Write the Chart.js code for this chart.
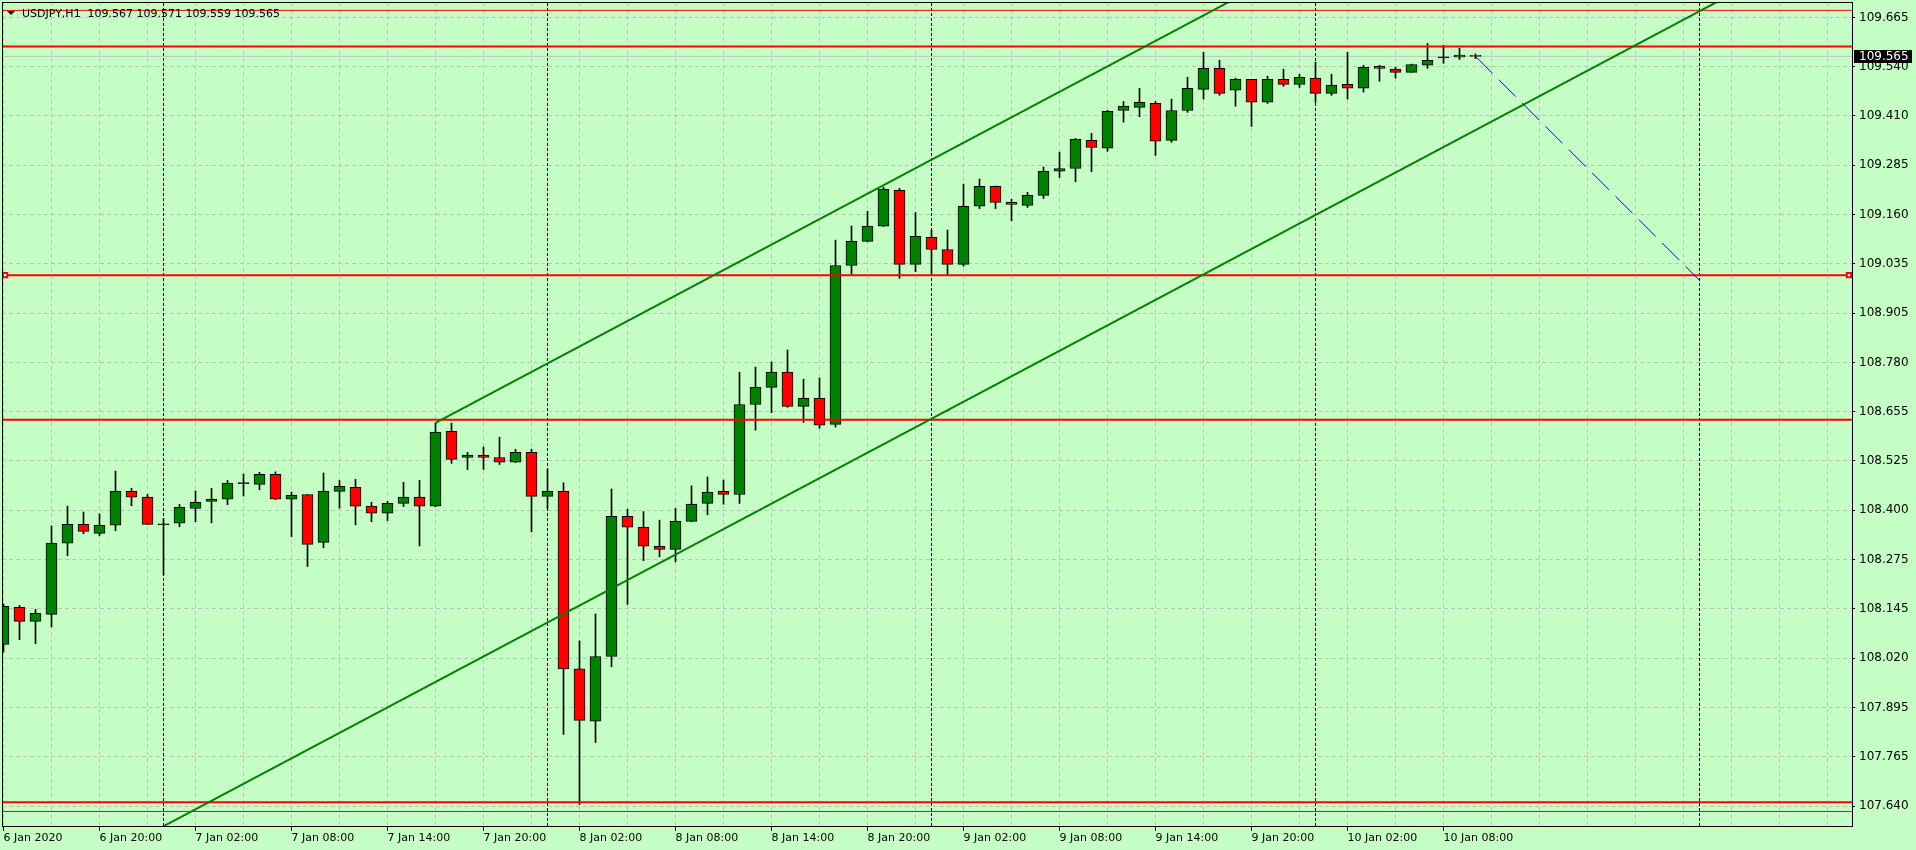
<!DOCTYPE html>
<html><head><meta charset="utf-8">
<script src="https://cdn.jsdelivr.net/npm/chart.js@4.4.1/dist/chart.umd.min.js"></script>
<style>
html,body{margin:0;padding:0;background:#c6ffc6;overflow:hidden;}
canvas{display:block;}
</style></head><body>
<canvas id="c" width="1916" height="850"></canvas>
<script>
// ---------- data ----------
const symbolTitle = 'USDJPY,H1';
const opens = [108.055,108.150,108.114,108.132,108.315,108.363,108.340,108.361,108.448,108.433,
108.362,108.366,108.404,108.422,108.428,108.468,108.466,108.492,108.428,108.440,
108.317,108.448,108.458,108.410,108.392,108.417,108.433,108.410,108.602,108.535,
108.541,108.535,108.523,108.548,108.435,108.448,107.992,107.858,108.024,108.384,
108.356,108.307,108.299,108.371,108.417,108.448,108.440,108.671,108.715,108.754,
108.666,108.687,108.620,109.028,109.090,109.129,109.221,109.031,109.100,109.069,
109.031,109.180,109.231,109.190,109.182,109.208,109.270,109.277,109.349,109.329,
109.426,109.434,109.444,109.349,109.426,109.480,109.534,109.478,109.506,109.447,
109.506,109.493,109.509,109.470,109.493,109.483,109.539,109.532,109.524,109.542,
109.561,109.563,109.567];
const highs = [108.159,108.155,108.145,108.359,108.410,108.395,108.390,108.500,108.456,108.440,
108.378,108.415,108.449,108.456,108.476,108.492,108.497,108.498,108.446,108.440,
108.495,108.476,108.479,108.420,108.422,108.471,108.476,108.624,108.623,108.548,
108.562,108.587,108.556,108.556,108.505,108.470,108.064,108.133,108.454,108.402,
108.396,108.374,108.404,108.462,108.485,108.477,108.754,108.767,108.780,108.811,
108.736,108.739,109.093,109.129,109.167,109.229,109.226,109.164,109.119,109.119,
109.237,109.250,109.232,109.198,109.216,109.281,109.319,109.354,109.367,109.426,
109.449,109.483,109.449,109.455,109.511,109.575,109.555,109.509,109.506,109.514,
109.532,109.519,109.550,109.519,109.575,109.542,109.542,109.537,109.545,109.598,
109.593,109.586,109.571];
const lows = [108.035,108.067,108.057,108.100,108.283,108.339,108.334,108.347,108.411,108.363,
108.234,108.357,108.370,108.367,108.414,108.436,108.452,108.427,108.332,108.255,
108.303,108.405,108.362,108.370,108.373,108.409,108.308,108.409,108.520,108.504,
108.504,108.517,108.522,108.344,108.404,107.824,107.644,107.803,107.998,108.158,
108.270,108.280,108.267,108.370,108.388,108.415,108.417,108.605,108.650,108.664,
108.625,108.610,108.613,109.006,109.089,109.128,108.995,109.012,109.005,109.005,
109.026,109.174,109.174,109.143,109.177,109.200,109.254,109.243,109.269,109.321,
109.396,109.410,109.311,109.344,109.421,109.455,109.465,109.437,109.385,109.444,
109.488,109.485,109.447,109.465,109.455,109.473,109.501,109.509,109.524,109.534,
109.547,109.557,109.559];
const closes = [108.153,108.114,108.135,108.315,108.363,108.345,108.361,108.448,108.433,108.363,
108.362,108.407,108.420,108.428,108.469,108.468,108.492,108.428,108.438,108.312,
108.448,108.461,108.410,108.392,108.417,108.433,108.410,108.600,108.530,108.541,
108.535,108.523,108.548,108.435,108.448,107.992,107.860,108.024,108.384,108.356,
108.307,108.299,108.371,108.415,108.446,108.440,108.671,108.715,108.754,108.666,
108.687,108.618,109.028,109.090,109.129,109.224,109.031,109.103,109.069,109.031,
109.180,109.231,109.190,109.185,109.208,109.270,109.277,109.352,109.331,109.424,
109.437,109.447,109.347,109.426,109.483,109.534,109.470,109.506,109.447,109.506,
109.493,109.511,109.470,109.491,109.483,109.537,109.534,109.524,109.544,109.555,
109.561,109.568,109.565];

// time-axis labels, one every 6 bars starting at bar 0
const xTickLabels = ['6 Jan 2020','6 Jan 20:00','7 Jan 02:00','7 Jan 08:00','7 Jan 14:00','7 Jan 20:00',
'8 Jan 02:00','8 Jan 08:00','8 Jan 14:00','8 Jan 20:00','9 Jan 02:00','9 Jan 08:00','9 Jan 14:00',
'9 Jan 20:00','10 Jan 02:00','10 Jan 08:00'];
// price-axis labels, bottom to top
const yTickLabels = ['107.640','107.765','107.895','108.020','108.145','108.275','108.400','108.525',
'108.655','108.780','108.905','109.035','109.160','109.285','109.410','109.540','109.665'];

const separatorBars = [10, 34, 58, 82, 106];            // day separators
const levelThick = [109.590, 109.003, 108.632, 107.650];  // horizontal lines (bold)
const levelThin = [109.683, 107.626];                     // horizontal lines (thin)
const upperChannel = [{x:27, y:108.624}, {x:80, y:109.779}];
const lowerChannel = [{x:0, y:107.370}, {x:115, y:109.877}];
const projection = [{x:92, y:109.565}, {x:106, y:108.990}];
const selectedLevelAnchors = [{x:0.1, y:109.003}, {x:115.34, y:109.003}];

// ---------- view ----------
const X_MIN = -0.09375, X_MAX = 115.53125;
const Y_MIN = 107.5887, Y_MAX = 109.7045;
const nBars = closes.length;
const BG = '#c6ffc6';
const GREEN = '#008000', RED = '#ff0000';

const yTickVals = yTickLabels.map((_, i) => parseFloat(yTickLabels[0]) + i * (parseFloat(yTickLabels[yTickLabels.length-1]) - parseFloat(yTickLabels[0])) / (yTickLabels.length - 1));
const xGridVals = [];
for (let v = 0; v <= 114; v += 3) xGridVals.push(v);
const xLabelFor = v => (v % 6 === 0 && v / 6 < xTickLabels.length) ? xTickLabels[v / 6] : '';

const idx = closes.map((_, i) => i);
const bodyColors = idx.map(i => closes[i] > opens[i] ? GREEN : (closes[i] < opens[i] ? RED : '#000'));

const lineDs = (data, color, width, order, dash) => ({
  type: 'line', data, borderColor: color, borderWidth: width, pointRadius: 0,
  borderDash: dash || [], tension: 0, order, fill: false
});

const datasets = [];
separatorBars.forEach(b => datasets.push(lineDs([{x:b, y:Y_MIN}, {x:b, y:Y_MAX}], '#000', 1, 20, [3, 2])));
datasets.push(lineDs([{x:X_MIN, y:closes[nBars-1]}, {x:X_MAX, y:closes[nBars-1]}], '#c0c0c0', 1, 19));
datasets.push({
  type: 'bar', data: idx.map(i => ({x:i, y:[lows[i], highs[i]]})),
  backgroundColor: '#000', borderWidth: 0, barThickness: 1, grouped: false, order: 18
});
datasets.push({
  type: 'bar', data: idx.map(i => ({x:i, y:[opens[i], closes[i]]})),
  backgroundColor: bodyColors, borderColor: '#000', borderWidth: 1, borderSkipped: false,
  barThickness: 11, grouped: false, minBarLength: 1, order: 17
});
levelThick.forEach(v => datasets.push(lineDs([{x:X_MIN, y:v}, {x:X_MAX, y:v}], RED, 2, 10)));
levelThin.forEach(v => datasets.push(lineDs([{x:X_MIN, y:v}, {x:X_MAX, y:v}], RED, 1, 10)));
datasets.push(lineDs(upperChannel, GREEN, 2, 8));
datasets.push(lineDs(lowerChannel, GREEN, 2, 8));
datasets.push(lineDs(projection, '#0000ff', 1, 7, [24, 9]));
datasets.push({
  type: 'line', data: selectedLevelAnchors, showLine: false, pointStyle: 'rect',
  pointRadius: 3, pointBackgroundColor: '#fff', pointBorderColor: RED, pointBorderWidth: 2, order: 1
});

const overlay = {
  id: 'overlay',
  beforeDraw(chart) {
    const c = chart.ctx;
    c.save(); c.fillStyle = BG; c.fillRect(0, 0, chart.width, chart.height); c.restore();
  },
  afterDraw(chart) {
    const c = chart.ctx, a = chart.chartArea, ys = chart.scales.y;
    c.save();
    // frame
    c.strokeStyle = '#000'; c.lineWidth = 1;
    c.strokeRect(a.left + 0.5, a.top + 0.5, a.right - a.left, a.bottom - a.top);
    // header
    const last = nBars - 1;
    c.fillStyle = '#000';
    c.beginPath(); c.moveTo(7, 11); c.lineTo(15, 11); c.lineTo(11, 15); c.closePath(); c.fill();
    c.font = '11px "DejaVu Sans"'; c.textBaseline = 'alphabetic'; c.textAlign = 'left';
    c.fillText(symbolTitle + '  ' + [opens[last], highs[last], lows[last], closes[last]].map(v => v.toFixed(3)).join(' '), 22, 17);
    // current price box
    const py = Math.round(ys.getPixelForValue(closes[last]));
    c.fillStyle = '#000'; c.fillRect(a.right + 2, py - 6, 58, 13);
    c.fillStyle = '#fff'; c.textBaseline = 'middle';
    c.font = '12px "DejaVu Sans"';
    c.fillText(closes[last].toFixed(3), a.right + 7, py + 0.5);
    c.restore();
  }
};

Chart.defaults.font.family = '"DejaVu Sans"';
Chart.defaults.font.size = 11;
Chart.defaults.color = '#000';

new Chart(document.getElementById('c'), {
  type: 'bar',
  data: { datasets },
  plugins: [overlay],
  options: {
    responsive: false, animation: false, devicePixelRatio: 1,
    layout: { padding: { left: 2, top: 2, right: 0, bottom: 0 }, autoPadding: false },
    plugins: { legend: { display: false }, tooltip: { enabled: false }, title: { display: false } },
    scales: {
      x: {
        type: 'linear', position: 'bottom', min: X_MIN, max: X_MAX, offset: false,
        afterBuildTicks: s => { s.ticks = xGridVals.map(v => ({ value: v })); },
        afterFit: s => { s.height = 24; s.paddingLeft = 0; s.paddingRight = 0; },
        ticks: { autoSkip: false, maxRotation: 0, minRotation: 0, align: 'start', padding: 1,
                 color: '#000', callback: v => xLabelFor(v) },
        grid: { color: '#c0c0c0', lineWidth: 1, offset: false, drawTicks: true, tickLength: 5,
                tickColor: ctx => (ctx.tick && xLabelFor(ctx.tick.value)) ? '#000' : 'rgba(0,0,0,0)' },
        border: { display: false, dash: [4, 3] }
      },
      y: {
        type: 'linear', position: 'right', min: Y_MIN, max: Y_MAX,
        afterBuildTicks: s => { s.ticks = yTickVals.map(v => ({ value: v })); },
        afterFit: s => { s.width = 64; s.paddingTop = 0; s.paddingBottom = 0; },
        ticks: { padding: 4, color: '#000', font: { size: 12 }, callback: (v, i) => yTickLabels[i] },
        grid: { color: '#c0c0c0', lineWidth: 1, drawTicks: true, tickLength: 3, tickColor: '#000' },
        border: { display: false, dash: [4, 3] }
      }
    }
  }
});
</script>
</body></html>
